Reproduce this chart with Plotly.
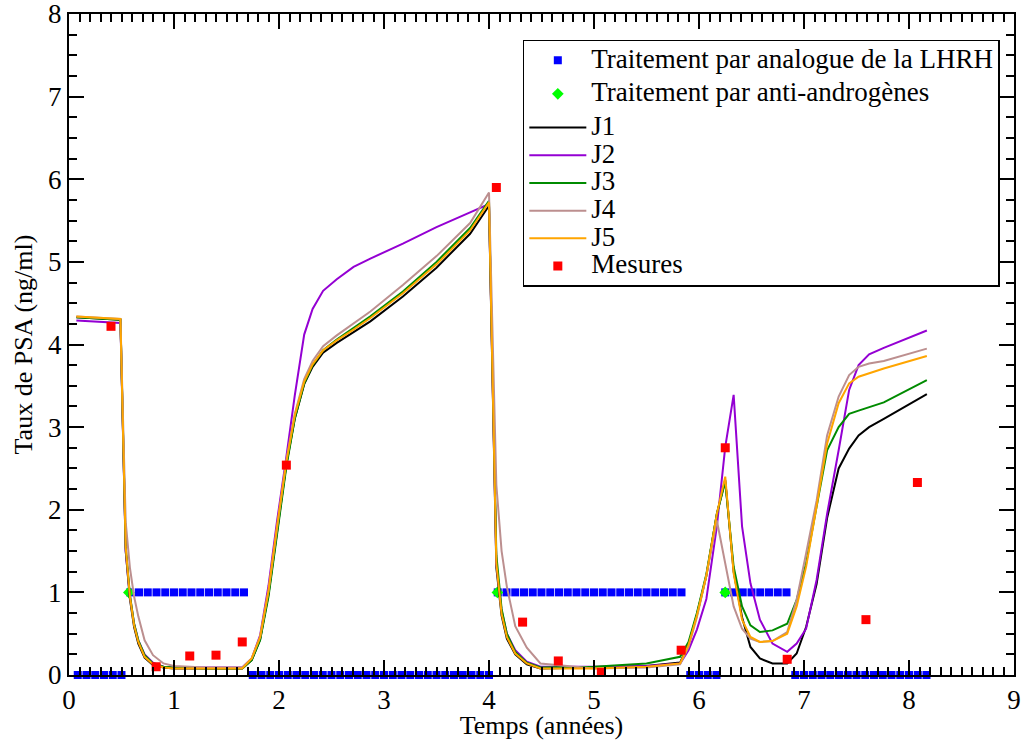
import plotly.graph_objects as go

# ---------------- data ----------------
TIME = [0.07, 0.49, 0.54, 0.58, 0.62, 0.66, 0.72, 0.8, 0.9, 1.0, 1.3, 1.65, 1.74, 1.82,
        1.9, 1.98, 2.07, 2.15, 2.24, 2.32, 2.42, 2.55, 2.71, 2.87, 3.18, 3.5, 3.82, 4.0,
        4.07, 4.12, 4.17, 4.25, 4.36, 4.49, 5.0, 5.5, 5.82, 5.9, 5.98, 6.07, 6.17, 6.25,
        6.33, 6.41, 6.49, 6.58, 6.7, 6.84, 6.93, 7.02, 7.12, 7.22, 7.33, 7.43, 7.52, 7.62,
        7.76, 8.17]

J1 = [4.33, 4.30, 1.50, 0.92, 0.58, 0.38, 0.21, 0.12, 0.09, 0.08, 0.08, 0.08, 0.18, 0.43,
      0.98, 1.75, 2.55, 3.10, 3.52, 3.73, 3.90, 4.02, 4.15, 4.28, 4.58, 4.93, 5.34, 5.68,
      1.30, 0.72, 0.44, 0.25, 0.13, 0.08, 0.09, 0.11, 0.15, 0.37, 0.73, 1.20, 1.95, 2.36,
      1.25, 0.70, 0.34, 0.20, 0.14, 0.14, 0.26, 0.58, 1.10, 1.90, 2.50, 2.74, 2.90, 3.00,
      3.10, 3.40]

J2 = [4.29, 4.26, 1.50, 0.95, 0.62, 0.42, 0.25, 0.15, 0.10, 0.09, 0.09, 0.09, 0.20, 0.48,
      1.08, 1.85, 2.64, 3.38, 4.12, 4.43, 4.65, 4.79, 4.94, 5.04, 5.22, 5.42, 5.60, 5.70,
      1.35, 0.78, 0.50, 0.30, 0.16, 0.10, 0.10, 0.11, 0.14, 0.30, 0.55, 0.92, 1.80, 2.76,
      3.39, 1.80, 1.11, 0.67, 0.38, 0.28, 0.38, 0.56, 1.15, 1.95, 2.72, 3.45, 3.75, 3.88,
      3.96, 4.17]

J3 = [4.33, 4.30, 1.55, 0.97, 0.62, 0.42, 0.24, 0.14, 0.10, 0.09, 0.08, 0.08, 0.18, 0.42,
      0.95, 1.72, 2.52, 3.10, 3.53, 3.75, 3.93, 4.06, 4.20, 4.34, 4.64, 5.00, 5.41, 5.74,
      1.45, 0.80, 0.50, 0.28, 0.15, 0.09, 0.10, 0.14, 0.22, 0.40, 0.75, 1.22, 1.95, 2.34,
      1.31, 0.83, 0.60, 0.52, 0.54, 0.62, 0.91, 1.35, 2.04, 2.72, 3.00, 3.16, 3.20, 3.24,
      3.30, 3.57]

J4 = [4.34, 4.31, 1.85, 1.30, 0.95, 0.71, 0.42, 0.24, 0.14, 0.11, 0.09, 0.09, 0.20, 0.46,
      1.02, 1.79, 2.60, 3.16, 3.58, 3.80, 3.98, 4.11, 4.25, 4.40, 4.72, 5.07, 5.47, 5.84,
      2.30, 1.50, 1.07, 0.59, 0.33, 0.14, 0.08, 0.09, 0.13, 0.34, 0.70, 1.20, 1.87, 1.36,
      0.83, 0.56, 0.44, 0.40, 0.41, 0.52, 0.91, 1.47, 2.11, 2.90, 3.37, 3.63, 3.73, 3.77,
      3.80, 3.95]

J5 = [4.34, 4.31, 1.55, 0.95, 0.60, 0.40, 0.22, 0.13, 0.09, 0.08, 0.08, 0.08, 0.20, 0.46,
      1.02, 1.79, 2.58, 3.14, 3.55, 3.76, 3.93, 4.05, 4.18, 4.32, 4.62, 4.97, 5.38, 5.72,
      1.35, 0.74, 0.46, 0.26, 0.14, 0.08, 0.08, 0.10, 0.14, 0.36, 0.72, 1.20, 1.95, 2.40,
      1.23, 0.67, 0.46, 0.40, 0.41, 0.50, 0.83, 1.31, 2.04, 2.80, 3.29, 3.53, 3.61, 3.65,
      3.71, 3.86]

# measurements
MES_T = [0.40, 0.83, 1.15, 1.40, 1.65, 2.07, 4.07, 4.32, 4.66, 5.07, 5.83, 6.25, 6.84, 7.59, 8.08]
MES_V = [4.22, 0.10, 0.23, 0.24, 0.40, 2.54, 5.90, 0.64, 0.17, 0.03, 0.30, 2.75, 0.19, 0.67, 2.33]

# LHRH analogue treatment (monthly indicator, 0 = off, 1 = on)
LHRH_MONTH = list(range(1, 99))
LHRH_STATE = [0, 0, 0, 0, 0, 0,
              1, 1, 1, 1, 1, 1, 1, 1, 1, 1, 1, 1, 1, 1,
              0, 0, 0, 0, 0, 0, 0, 0, 0, 0, 0, 0, 0, 0, 0, 0, 0, 0, 0, 0, 0, 0, 0, 0, 0, 0, 0, 0,
              1, 1, 1, 1, 1, 1, 1, 1, 1, 1, 1, 1, 1, 1, 1, 1, 1, 1, 1, 1, 1, 1,
              0, 0, 0, 0,
              1, 1, 1, 1, 1, 1, 1, 1,
              0, 0, 0, 0, 0, 0, 0, 0, 0, 0, 0, 0, 0, 0, 0, 0]
LHRH_T = [m / 12 for m in LHRH_MONTH]

# anti-androgen treatment starts
ANTI_T = [0.57, 4.08, 6.25]
ANTI_V = [1, 1, 1]

X_TICKS = [0, 1, 2, 3, 4, 5, 6, 7, 8, 9]
Y_TICKS = [0, 1, 2, 3, 4, 5, 6, 7, 8]

FONT = "Liberation Serif, 'Times New Roman', Times, 'DejaVu Serif', serif"


def lab(s):
    return '<span style="font-size:27px">' + s + '</span>'


fig = go.Figure()

fig.add_trace(go.Scatter(
    x=LHRH_T, y=LHRH_STATE, mode="markers", cliponaxis=False,
    marker=dict(symbol="square", size=8, color="#0000ff"),
    name=lab("Traitement par analogue de la LHRH"), legendgroup="a"))

fig.add_trace(go.Scatter(
    x=ANTI_T, y=ANTI_V, mode="markers", cliponaxis=False,
    marker=dict(symbol="diamond", size=9, color="#00ff00"),
    name=lab("Traitement par anti-androgènes"), legendgroup="b"))

for name, vals, col in [("J1", J1, "#000000"), ("J2", J2, "#9400d3"),
                        ("J3", J3, "#008b00"), ("J4", J4, "#bc8f8f"),
                        ("J5", J5, "#ffa500")]:
    fig.add_trace(go.Scatter(
        x=TIME, y=vals, mode="lines", line=dict(color=col, width=2),
        name=lab(name), legendgroup="c"))

fig.add_trace(go.Scatter(
    x=MES_T, y=MES_V, mode="markers", cliponaxis=False,
    marker=dict(symbol="square", size=9, color="#ff0000"),
    name=lab("Mesures"), legendgroup="c"))

axis_common = dict(
    ticks="inside", tickwidth=1.5, tickcolor="black", ticklen=15,
    showline=True, linewidth=2, linecolor="black", mirror="ticks",
    showgrid=False, zeroline=False, ticklabeloverflow="allow", automargin=False,
    tickfont=dict(family=FONT, size=27, color="black"),
)

fig.update_xaxes(
    range=[0, 9], tickvals=X_TICKS, ticktext=[str(v) for v in X_TICKS],
    minor=dict(dtick=0.1, tick0=0, ticklen=8, tickwidth=1.5, tickcolor="black", ticks="inside", showgrid=False),
    title=dict(text="Temps (années)", font=dict(family=FONT, size=26, color="black"), standoff=4),
    **axis_common)

fig.update_yaxes(
    range=[0, 8], tickvals=Y_TICKS, ticktext=[str(v) for v in Y_TICKS],
    minor=dict(dtick=0.25, tick0=0, ticklen=8, tickwidth=1.5, tickcolor="black", ticks="inside", showgrid=False),
    title=dict(text="Taux de PSA (ng/ml)", font=dict(family=FONT, size=26, color="black"), standoff=8),
    **axis_common)

fig.update_layout(
    width=1021, height=740,
    margin=dict(l=69, r=7, t=14, b=65),
    paper_bgcolor="white", plot_bgcolor="white",
    font=dict(family=FONT, color="black"),
    legend=dict(
        x=0.985, xanchor="right", y=0.961, yanchor="top",
        bordercolor="black", borderwidth=1.5, bgcolor="white",
        font=dict(family=FONT, size=19, color="black"),
        itemwidth=57, tracegroupgap=6, traceorder="grouped",
    ),
)

# remove the default page margin so the figure fills the window exactly
fig.write_html("out.html", config={"displayModeBar": False},
               post_script="document.body.style.margin='0';")
